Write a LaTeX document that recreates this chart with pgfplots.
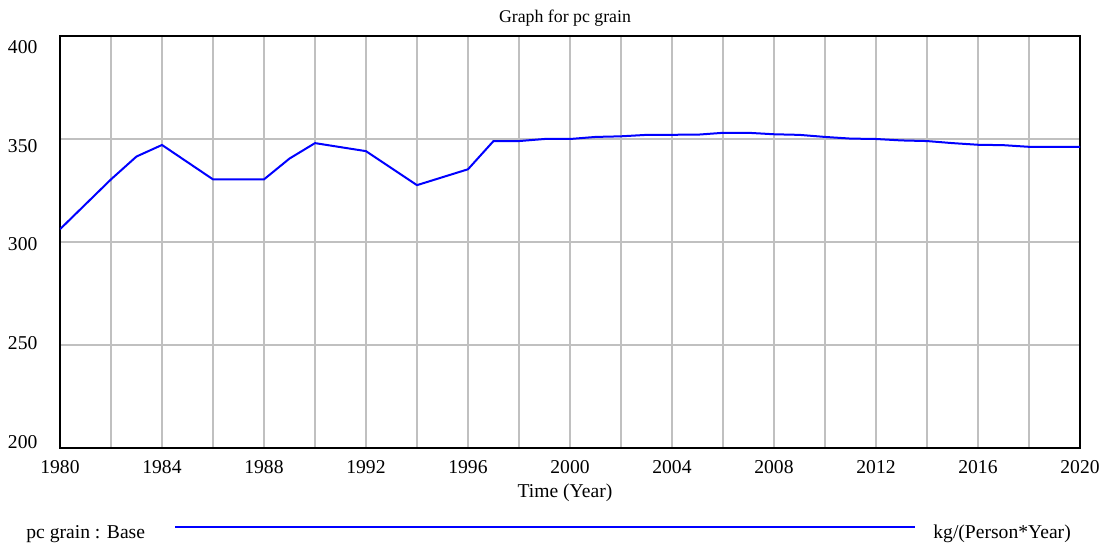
\documentclass[border=0pt]{standalone}
\usepackage{fontspec}
\setmainfont{Liberation Serif}
\usepackage{pgfplots}
\pgfplotsset{compat=1.18}
\definecolor{gridgray}{RGB}{192,192,192}
\newcommand{\lblfont}{\fontsize{9.8bp}{11bp}\selectfont}
\begin{document}
\begin{tikzpicture}
\path[use as bounding box] (-30bp,-49bp) rectangle (520bp,224bp);
\begin{axis}[
  name=ax, at={(0,0)}, anchor=south west,
  scale only axis, width=510bp, height=206bp,
  xmin=1980, xmax=2020, ymin=200, ymax=400,
  xtick={1980,1984,...,2020},
  minor xtick={1982,1986,...,2018},
  ytick={200,250,...,400},
  grid=both,
  major grid style={gridgray, line width=1bp},
  minor grid style={gridgray, line width=1bp},
  major tick length=0pt, minor tick length=0pt,
  axis line style={line width=1bp, black},
  /pgf/number format/assume math mode=true,
  /pgf/number format/1000 sep={},
  x tick label style={font=\lblfont, yshift=-2.8bp},
  y tick label style={font=\lblfont, xshift=-7.8bp},
  yticklabel={\pgfmathsetmacro\rz{3-\ticknum*2.1-3.28}\raisebox{\rz bp}[0pt][0pt]{\pgfmathprintnumber{\tick}}},
  title={Graph for pc grain},
  title style={font=\fontsize{8.9bp}{10bp}\selectfont, at={(axis description cs:0.5,1)}, anchor=base, yshift=1bp, xshift=-2.5bp},
  xlabel={Time (Year)},
  xlabel style={font=\lblfont, at={(axis description cs:0.5,0)}, anchor=base, yshift=-24.5bp, xshift=-2.5bp},
]
\addplot[blue, line width=1bp] coordinates {
(1980,306.2) (1982,330.4) (1983,341.5) (1984,347.1) (1986,330.4) (1988,330.4)
(1989,340.5) (1990,348) (1992,344.1) (1994,327.6) (1996,335.3) (1997,349)
(1998,349) (1999,350) (2000,350) (2001,351) (2002,351.3) (2003,352)
(2005,352.1) (2006,353) (2007,353) (2008,352.3) (2009,352) (2010,351)
(2011,350.2) (2012,350) (2013,349.3) (2014,349) (2015,348) (2016,347.2)
(2017,347) (2018,346.2) (2020,346.2)
};
\end{axis}
\node[anchor=base west, inner sep=0pt, font=\lblfont] at (-17bp,-45bp) {pc grain : Base};
\draw[blue, line width=1bp] (57.5bp,-39.5bp) -- (427.5bp,-39.5bp);
\node[anchor=base west, inner sep=0pt, font=\lblfont] at (436.5bp,-45bp) {kg/(Person*Year)};
\end{tikzpicture}
\end{document}
